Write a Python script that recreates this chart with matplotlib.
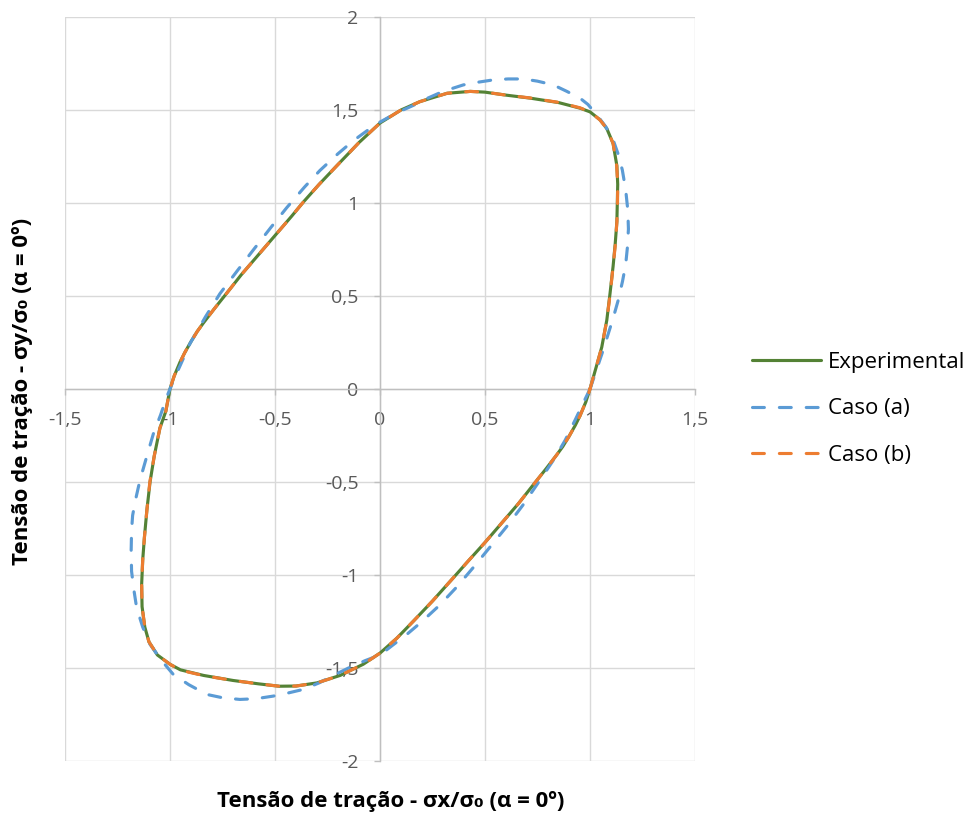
import matplotlib
matplotlib.use("Agg")
import matplotlib.pyplot as plt
from matplotlib.ticker import FixedLocator, FixedFormatter

# Normalised yield locus: (sigma_x/sigma_0, sigma_y/sigma_0), closed contour
exp_x = [1.00, 1.03, 1.056, 1.08, 1.095, 1.11, 1.12, 1.128, 1.13, 1.132, 1.128, 1.11, 1.08,
         1.048, 1.00, 0.952, 0.85, 0.714, 0.60, 0.50, 0.43, 0.32, 0.19, 0.10, 0.00, -0.10,
         -0.206, -0.29, -0.365, -0.42, -0.50, -0.58, -0.66, -0.73, -0.79, -0.841, -0.87,
         -0.90, -0.93, -0.952, -0.98,
         -1.00, -1.02, -1.048, -1.075, -1.095, -1.11, -1.122, -1.13, -1.135, -1.133, -1.12,
         -1.10, -1.06, -1.00, -0.95, -0.84, -0.70, -0.58, -0.48, -0.40, -0.30, -0.19, -0.08,
         0.00, 0.08, 0.16, 0.25, 0.35, 0.42, 0.50, 0.58, 0.66, 0.73, 0.79, 0.841, 0.87,
         0.90, 0.93, 0.952, 0.98, 1.00]
exp_y = [0.00, 0.12, 0.225, 0.37, 0.51, 0.66, 0.78, 0.90, 1.00, 1.10, 1.20, 1.32, 1.40,
         1.447, 1.49, 1.51, 1.54, 1.564, 1.58, 1.596, 1.60, 1.59, 1.545, 1.50, 1.43, 1.325,
         1.20, 1.10, 1.005, 0.93, 0.825, 0.72, 0.615, 0.515, 0.43, 0.355, 0.31,
         0.255, 0.195, 0.145, 0.07,
         0.00, -0.12, -0.21, -0.36, -0.50, -0.65, -0.80, -0.92, -1.05, -1.17, -1.28,
         -1.36, -1.43, -1.48, -1.51, -1.54, -1.567, -1.585, -1.598, -1.597, -1.58, -1.54, -1.48,
         -1.42, -1.34, -1.247, -1.14, -1.014, -0.925, -0.825, -0.72, -0.615, -0.515, -0.43, -0.355,
         -0.31, -0.255, -0.195, -0.145, -0.07, 0.00]

caso_a_x = [1.00, 1.03, 1.06, 1.085, 1.11, 1.135, 1.155, 1.17, 1.178, 1.183, 1.18,
            1.17, 1.154, 1.135, 1.11, 1.075, 1.032, 0.99, 0.952, 0.89, 0.825, 0.75, 0.683,
            0.61, 0.54, 0.47, 0.397, 0.30, 0.22, 0.159, 0.08, 0.00, -0.06, -0.127, -0.20,
            -0.286, -0.36, -0.444, -0.52, -0.603, -0.68, -0.762, -0.83, -0.905, -0.95, -0.984,
            -1.00, -1.016, -1.045, -1.079, -1.11, -1.143, -1.165, -1.178, -1.183, -1.185, -1.183,
            -1.172, -1.159, -1.13, -1.095, -1.04, -0.984, -0.91, -0.825, -0.75, -0.667, -0.59,
            -0.508, -0.44, -0.365, -0.29, -0.222, -0.15, -0.07, 0.00, 0.063, 0.127, 0.20, 0.286,
            0.365, 0.444, 0.52, 0.603, 0.68, 0.762, 0.83, 0.882, 0.93, 0.968, 1.00]
caso_a_y = [0.00, 0.10, 0.20, 0.29, 0.38, 0.48, 0.58, 0.67, 0.76, 0.86, 0.962,
            1.07, 1.177, 1.26, 1.34, 1.41, 1.474, 1.53, 1.564, 1.60, 1.635, 1.655, 1.667,
            1.667, 1.662, 1.65, 1.635, 1.60, 1.56, 1.525, 1.485, 1.435, 1.39, 1.335, 1.265,
            1.175, 1.085, 0.975, 0.868, 0.748, 0.635, 0.513, 0.39, 0.244, 0.13, 0.046,
            0.00, -0.044, -0.14, -0.24, -0.36, -0.49, -0.60, -0.68, -0.76, -0.87, -0.98,
            -1.08, -1.175, -1.28, -1.373, -1.46, -1.535, -1.59, -1.642, -1.66, -1.669, -1.665,
            -1.651, -1.635, -1.615, -1.58, -1.54, -1.50, -1.46, -1.43, -1.375, -1.32, -1.25, -1.16,
            -1.065, -0.96, -0.855, -0.74, -0.625, -0.49, -0.375, -0.275, -0.165, -0.075, 0.00]

caso_b_x = [1.00, 1.03, 1.056, 1.08, 1.096, 1.11, 1.121, 1.128, 1.131, 1.132, 1.127, 1.11, 1.08,
            1.047, 1.00, 0.952, 0.85, 0.714, 0.60, 0.50, 0.43, 0.32, 0.19, 0.10, 0.00, -0.10,
            -0.206, -0.29, -0.365, -0.42, -0.50, -0.58, -0.66, -0.73, -0.79, -0.841, -0.87,
            -0.90, -0.93, -0.952, -0.98,
            -1.00, -1.02, -1.048, -1.075, -1.096, -1.11, -1.122, -1.13, -1.135, -1.133, -1.12,
            -1.10, -1.06, -1.00, -0.95, -0.84, -0.70, -0.58, -0.48, -0.40, -0.30, -0.19, -0.08,
            0.00, 0.08, 0.16, 0.25, 0.35, 0.42, 0.50, 0.58, 0.66, 0.73, 0.79, 0.841, 0.87,
            0.90, 0.93, 0.952, 0.98, 1.00]
caso_b_y = [0.00, 0.12, 0.225, 0.37, 0.51, 0.66, 0.78, 0.90, 1.00, 1.10, 1.20, 1.32, 1.40,
            1.447, 1.49, 1.512, 1.541, 1.565, 1.58, 1.596, 1.60, 1.59, 1.545, 1.50, 1.43, 1.325,
            1.20, 1.10, 1.005, 0.93, 0.825, 0.72, 0.615, 0.515, 0.43, 0.355, 0.31,
            0.255, 0.195, 0.145, 0.07,
            0.00, -0.12, -0.21, -0.36, -0.50, -0.65, -0.80, -0.92, -1.05, -1.17, -1.28,
            -1.36, -1.43, -1.48, -1.512, -1.541, -1.567, -1.585, -1.598, -1.597, -1.58, -1.54, -1.48,
            -1.42, -1.34, -1.247, -1.14, -1.014, -0.925, -0.825, -0.72, -0.615, -0.515, -0.43, -0.355,
            -0.31, -0.255, -0.195, -0.145, -0.07, 0.00]

series_labels = ["Experimental", "Caso (a)", "Caso (b)"]

x_ticks = [-1.5, -1.0, -0.5, 0.0, 0.5, 1.0, 1.5]
x_tick_labels = ["-1,5", "-1", "-0,5", "0", "0,5", "1", "1,5"]
y_ticks = [-2.0, -1.5, -1.0, -0.5, 0.0, 0.5, 1.0, 1.5, 2.0]
y_tick_labels = ["-2", "-1,5", "-1", "-0,5", "0", "0,5", "1", "1,5", "2"]

x_title = "Tensão de tração - σx/σ₀ (α = 0º)"
y_title = "Tensão de tração - σy/σ₀ (α = 0º)"

FONT = ["Open Sans", "DejaVu Sans"]
GREEN = "#548235"
BLUE = "#5B9BD5"
ORANGE = "#ED7D31"

plt.rcParams["font.family"] = FONT

fig = plt.figure(figsize=(9.73, 8.16), dpi=100)
ax = fig.add_axes([65 / 973, 1 - 761 / 816, 630 / 973, 744 / 816])

dash = (0, (3.8, 4.8))
ax.plot(exp_x, exp_y, color=GREEN, lw=2.25, solid_capstyle="round",
        solid_joinstyle="round", label=series_labels[0], zorder=3)
ax.plot(caso_a_x, caso_a_y, color=BLUE, lw=2.25, linestyle=dash,
        dash_capstyle="round", dash_joinstyle="round", label=series_labels[1], zorder=4)
ax.plot(caso_b_x, caso_b_y, color=ORANGE, lw=2.25, linestyle=dash,
        dash_capstyle="round", dash_joinstyle="round", label=series_labels[2], zorder=5)

ax.set_xlim(-1.5, 1.5)
ax.set_ylim(-2.0, 2.0)
ax.xaxis.set_major_locator(FixedLocator(x_ticks))
ax.xaxis.set_major_formatter(FixedFormatter(x_tick_labels))
ax.yaxis.set_major_locator(FixedLocator(y_ticks))
ax.yaxis.set_major_formatter(FixedFormatter(y_tick_labels))

ax.set_axisbelow(True)
ax.grid(True, color="#D9D9D9", lw=1.0, zorder=0)
for gl in ax.get_xgridlines() + ax.get_ygridlines():
    gl.set_clip_on(False)

for side in ("top", "right"):
    ax.spines[side].set_visible(False)
for side in ("left", "bottom"):
    ax.spines[side].set_position(("data", 0))
    ax.spines[side].set_color("#BFBFBF")
    ax.spines[side].set_linewidth(1.0)
    ax.spines[side].set_zorder(1)

ax.tick_params(axis="both", direction="out", length=4.5, width=1.0, color="#BFBFBF",
               labelsize=14, labelcolor="#595959")
ax.tick_params(axis="x", pad=11)
ax.tick_params(axis="y", pad=11)
ax.patch.set_visible(False)

fig.text(391 / 973, 1 - 801 / 816, x_title, ha="center", va="center",
         fontsize=16, fontweight="bold", color="black", family=FONT)
fig.text(23 / 973, 1 - 391 / 816, y_title, ha="center", va="center", rotation=90,
         fontsize=16, fontweight="bold", color="black", family=FONT)

fig.legend(loc="center left", bbox_to_anchor=(752 / 973, 1 - 409 / 816),
           frameon=False, fontsize=16, handlelength=3.1, handletextpad=0.3,
           labelspacing=1.15, borderpad=0, borderaxespad=0)

fig.savefig("out.png", dpi=100)
